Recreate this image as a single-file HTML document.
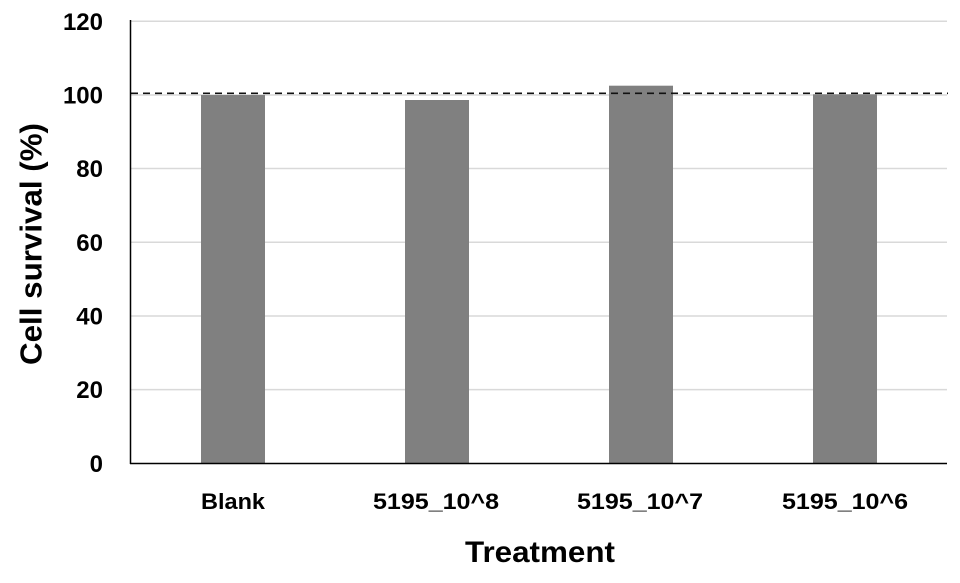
<!DOCTYPE html>
<html>
<head>
<meta charset="utf-8">
<style>
html,body{margin:0;padding:0;background:#fff;}
svg{display:block;}
text{font-family:"Liberation Sans",Arial,sans-serif;font-weight:bold;fill:#000;}
</style>
</head>
<body>
<svg width="960" height="583" viewBox="0 0 960 583" xmlns="http://www.w3.org/2000/svg">
  <rect x="0" y="0" width="960" height="583" fill="#fff"/>
  <!-- gridlines -->
  <g stroke="#d9d9d9" stroke-width="1.5">
    <line x1="130" y1="21.2" x2="947" y2="21.2"/>
    <line x1="130" y1="95" x2="947" y2="95"/>
    <line x1="130" y1="168.5" x2="947" y2="168.5"/>
    <line x1="130" y1="242.2" x2="947" y2="242.2"/>
    <line x1="130" y1="316" x2="947" y2="316"/>
    <line x1="130" y1="389.6" x2="947" y2="389.6"/>
  </g>
  <!-- bars -->
  <g fill="#808080">
    <rect x="201" y="95" width="64" height="368.5"/>
    <rect x="405" y="100" width="64" height="363.5"/>
    <rect x="609" y="85.7" width="64" height="377.8"/>
    <rect x="813" y="94.3" width="64" height="369.2"/>
  </g>
  <!-- dashed line -->
  <line x1="131" y1="93.3" x2="948" y2="93.3" stroke="#111" stroke-width="1.6" stroke-dasharray="7,5"/>
  <!-- axes -->
  <line x1="130.5" y1="20" x2="130.5" y2="464" stroke="#000" stroke-width="1.5"/>
  <line x1="130" y1="463.5" x2="947" y2="463.5" stroke="#000" stroke-width="1.5"/>
  <!-- y tick labels -->
  <g font-size="24" text-anchor="end">
    <text x="103" y="29.8">120</text>
    <text x="103" y="103.6">100</text>
    <text x="103" y="177.1">80</text>
    <text x="103" y="250.8">60</text>
    <text x="103" y="324.6">40</text>
    <text x="103" y="398.2">20</text>
    <text x="103" y="471.9">0</text>
  </g>
  <!-- x tick labels -->
  <g font-size="22.5" text-anchor="middle">
    <text x="233" y="509" textLength="64" lengthAdjust="spacingAndGlyphs">Blank</text>
    <text x="436" y="509" textLength="126" lengthAdjust="spacingAndGlyphs">5195_10^8</text>
    <text x="640" y="509" textLength="126" lengthAdjust="spacingAndGlyphs">5195_10^7</text>
    <text x="845" y="509" textLength="126" lengthAdjust="spacingAndGlyphs">5195_10^6</text>
  </g>
  <!-- axis titles -->
  <text x="540" y="562" font-size="29.5" text-anchor="middle" textLength="150" lengthAdjust="spacingAndGlyphs">Treatment</text>
  <text transform="translate(41.5,244) rotate(-90)" x="0" y="0" font-size="31" text-anchor="middle" textLength="242" lengthAdjust="spacingAndGlyphs">Cell survival (%)</text>
</svg>
</body>
</html>
